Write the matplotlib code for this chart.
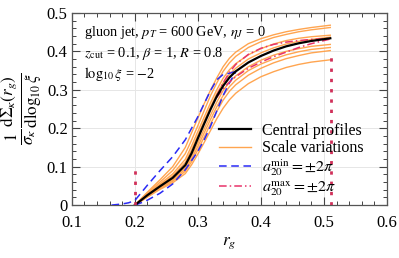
import matplotlib
matplotlib.use("Agg")
import matplotlib.pyplot as plt
from matplotlib.ticker import MultipleLocator

plt.rcParams['font.family'] = ['Liberation Serif', 'DejaVu Serif']
plt.rcParams['mathtext.fontset'] = 'stix'

# common grid for central profile and scale variations
rg = [0.20, 0.21, 0.22, 0.24, 0.26, 0.28, 0.29, 0.30, 0.31, 0.32, 0.33, 0.34,
      0.35, 0.36, 0.38, 0.40, 0.42, 0.44, 0.46, 0.48, 0.51]
central = [0, 0.013, 0.026, 0.049, 0.071, 0.104, 0.135, 0.174, 0.212, 0.249, 0.283,
           0.310, 0.332, 0.348, 0.371, 0.388, 0.402, 0.413, 0.421, 0.427, 0.434]

scale_A = [0, 0.017, 0.034, 0.066, 0.100, 0.150, 0.188, 0.227, 0.264, 0.299, 0.331,
           0.360, 0.382, 0.398, 0.420, 0.433, 0.443, 0.451, 0.457, 0.462, 0.468]
scale_B = [0, 0.015, 0.031, 0.060, 0.090, 0.134, 0.169, 0.207, 0.246, 0.285, 0.318,
           0.348, 0.370, 0.387, 0.410, 0.425, 0.436, 0.444, 0.451, 0.456, 0.462]
scale_C = [0, 0.014, 0.029, 0.055, 0.081, 0.119, 0.154, 0.192, 0.229, 0.266, 0.300,
           0.330, 0.352, 0.368, 0.391, 0.407, 0.419, 0.428, 0.434, 0.438, 0.442]
scale_D = [0, 0.013, 0.027, 0.052, 0.076, 0.111, 0.144, 0.182, 0.219, 0.256, 0.290,
           0.318, 0.340, 0.356, 0.380, 0.396, 0.409, 0.419, 0.426, 0.431, 0.437]
scale_E = [0, 0.012, 0.024, 0.047, 0.068, 0.098, 0.127, 0.162, 0.198, 0.234, 0.268,
           0.298, 0.320, 0.336, 0.360, 0.377, 0.390, 0.400, 0.407, 0.413, 0.418]
scale_F = [0, 0.011, 0.023, 0.045, 0.065, 0.093, 0.120, 0.153, 0.188, 0.223, 0.256,
           0.285, 0.308, 0.325, 0.350, 0.367, 0.380, 0.391, 0.399, 0.405, 0.410]
scale_G = [0, 0.011, 0.022, 0.043, 0.062, 0.088, 0.113, 0.144, 0.177, 0.211, 0.244,
           0.273, 0.296, 0.313, 0.338, 0.356, 0.370, 0.381, 0.389, 0.396, 0.402]
scale_H = [0, 0.010, 0.021, 0.041, 0.058, 0.082, 0.105, 0.133, 0.163, 0.194, 0.225,
           0.252, 0.274, 0.291, 0.316, 0.334, 0.347, 0.358, 0.366, 0.372, 0.378]
scale_variations = [scale_A, scale_B, scale_C, scale_D, scale_E, scale_F, scale_G, scale_H]

# a20^min variations
amin_up_x = [0.163, 0.18, 0.19, 0.20, 0.21, 0.22, 0.24, 0.26, 0.28, 0.30, 0.31, 0.32,
             0.33, 0.34, 0.35, 0.36]
amin_up_y = [0, 0.003, 0.006, 0.012, 0.032, 0.052, 0.090, 0.126, 0.170, 0.230, 0.264,
             0.298, 0.326, 0.340, 0.343, 0.348]
amin_dn_x = [0.20, 0.21, 0.22, 0.24, 0.26, 0.28, 0.30, 0.31, 0.32, 0.33, 0.34, 0.35, 0.36]
amin_dn_y = [0, 0.006, 0.013, 0.031, 0.055, 0.092, 0.140, 0.170, 0.205, 0.245, 0.285,
             0.318, 0.346]

# a20^max variations
amax_x = [0.33, 0.34, 0.35, 0.36, 0.38, 0.40, 0.42, 0.44, 0.46, 0.48, 0.51]
amax_up_y = [0.285, 0.318, 0.345, 0.366, 0.392, 0.408, 0.418, 0.424, 0.428, 0.431, 0.434]
amax_dn_y = [0.280, 0.303, 0.320, 0.334, 0.356, 0.372, 0.386, 0.398, 0.410, 0.420, 0.432]

# endpoint markers
endpoints_x = [0.2, 0.511]
endpoints_top = [0.1, 0.4]

fig = plt.figure(figsize=(3.99, 2.58), dpi=100)
ax = fig.add_axes([0.180, 0.205, 0.790, 0.745])

orange = '#ffa550'
blue = '#2a2af5'
red = '#e8336a'
dotred = '#d0305a'

for sv in scale_variations:
    ax.plot(rg, sv, color=orange, lw=1.0, zorder=2)
ax.plot(amin_up_x, amin_up_y, color=blue, lw=1.1, ls=(0, (5, 3)), zorder=3)
ax.plot(amin_dn_x, amin_dn_y, color=blue, lw=1.1, ls=(0, (5, 3)), zorder=3)
ax.plot(amax_x, amax_up_y, color=red, lw=1.1, ls=(0, (5, 2, 1, 2)), zorder=3)
ax.plot(amax_x, amax_dn_y, color=red, lw=1.1, ls=(0, (5, 2, 1, 2)), zorder=3)
ax.plot(rg, central, color='black', lw=1.6, zorder=4)

for ex, et in zip(endpoints_x, endpoints_top):
    ax.plot([ex, ex], [0, et], color=dotred, lw=2.0, ls=(0, (1.2, 2.5)), zorder=5)

# legend proxies
h1, = ax.plot([], [], color='black', lw=1.6)
h2, = ax.plot([], [], color=orange, lw=1.0)
h3, = ax.plot([], [], color=blue, lw=1.1, ls=(0, (5, 3)))
h4, = ax.plot([], [], color=red, lw=1.1, ls=(0, (5, 2, 1, 2)))
ax.legend([h1, h2, h3, h4],
          ['Central profiles', 'Scale variations',
           r'$a_{20}^{\rm min}=\pm 2\pi$', r'$a_{20}^{\rm max}=\pm 2\pi$'],
          loc='lower left', bbox_to_anchor=(0.468, 0.035), frameon=False,
          fontsize=11.5, handlelength=2.0, handletextpad=0.7, labelspacing=0.08,
          borderaxespad=0.0, borderpad=0.0)

ax.text(0.04, 0.94, r'gluon jet, $p_T$ = 600 GeV, $\eta_J$ = 0', transform=ax.transAxes,
        fontsize=10.4, va='top')
ax.text(0.04, 0.835, r'$z_{\rm cut}$ = 0.1, $\beta$ = 1, $R$ = 0.8', transform=ax.transAxes,
        fontsize=10.4, va='top')
ax.text(0.04, 0.73, r'$\log_{10}\xi$ = $-$2', transform=ax.transAxes,
        fontsize=10.4, va='top')

ax.set_xlim(0.1, 0.6)
ax.set_ylim(0, 0.5)
ax.xaxis.set_minor_locator(MultipleLocator(0.02))
ax.yaxis.set_minor_locator(MultipleLocator(0.02))
ax.set_xticks([0.1, 0.2, 0.3, 0.4, 0.5, 0.6])
ax.set_xticklabels(['0.1', '0.2', '0.3', '0.4', '0.5', '0.6'])
ax.set_yticks([0, 0.1, 0.2, 0.3, 0.4, 0.5])
ax.set_yticklabels(['0', '0.1', '0.2', '0.3', '0.4', '0.5'])
ax.tick_params(which='both', direction='in', top=True, right=True, labelsize=12,
               color='#444444')
ax.tick_params(axis='x', pad=7)
ax.tick_params(axis='y', pad=3)
ax.tick_params(which='major', length=6, width=0.8)
ax.tick_params(which='minor', length=3, width=0.7)
ax.grid(True, which='major', color='#e6e6e6', lw=0.7, zorder=0)
ax.set_axisbelow(True)
for s in ax.spines.values():
    s.set_color('#555555')
    s.set_linewidth(0.9)

ax.set_xlabel(r'$r_g$', fontsize=12.5, labelpad=3)
ax.set_ylabel(r'$\frac{1}{\sigma_\kappa}\frac{\mathrm{d}\Sigma_\kappa(r_g)}{\mathrm{d}\log_{10}\xi}$',
              fontsize=17.5, labelpad=1)

fig.savefig('out.png', dpi=100)
